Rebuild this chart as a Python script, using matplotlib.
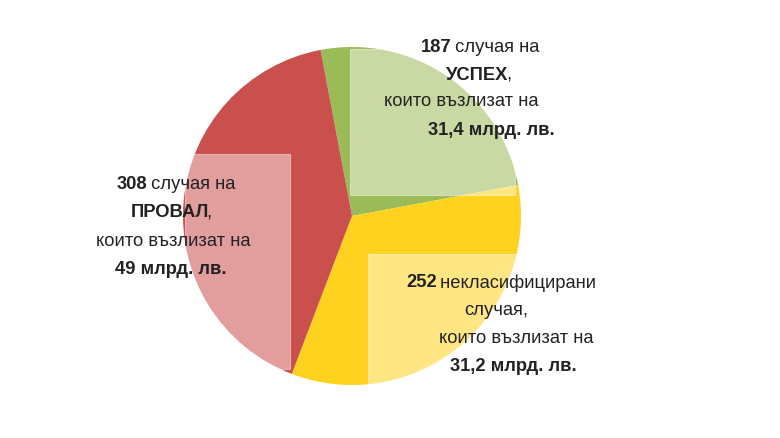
import matplotlib
matplotlib.use("Agg")
import matplotlib.pyplot as plt
from matplotlib.patches import Rectangle

values = [187, 252, 308]
colors = ["#9BBB59", "#FFD21F", "#C9504D"]

fig = plt.figure(figsize=(7.8, 4.39), dpi=100)
W, H = 780, 439
cx, cy, r = 352, 217, 169
ax = fig.add_axes([(cx - r) / W, 1 - (cy + r) / H, 2 * r / W, 2 * r / H])
ax.pie(values, colors=colors, startangle=100.7, counterclock=False,
       wedgeprops=dict(edgecolor="none"))
ax.set_aspect("auto")
ax.set_xlim(-1, 1); ax.set_ylim(-1, 1)

ov = fig.add_axes([0, 0, 1, 1]); ov.set_xlim(0, W); ov.set_ylim(H, 0); ov.axis("off")
for (x0, y0, x1, y1) in [(350, 50, 515, 196), (185, 155, 290, 370), (368, 255, 520, 390)]:
    ov.add_patch(Rectangle((x0, y0), x1 - x0, y1 - y0, facecolor="white", alpha=0.45,
                           edgecolor="white", lw=0.8))

fam = "Liberation Sans"
fs = 13.2
fig.canvas.draw()
rend = fig.canvas.get_renderer()

def line(xc, y, parts):
    ts = []
    total = 0
    for s, b in parts:
        t = ov.text(0, y, s, fontsize=fs, family=fam, weight="bold" if b else "normal",
                    va="center", ha="left", color="#222222")
        w = t.get_window_extent(rend).width - 2
        ts.append((t, w)); total += w
    x = xc - total / 2
    for t, w in ts:
        t.set_x(x); x += w

lines = [
    (479, 48, [("187", True), (" случая на", False)]),
    (478, 75, [("УСПЕХ", True), (",", False)]),
    (460, 102, [("които възлизат на", False)]),
    (490, 131, [("31,4 млрд. лв.", True)]),
    (175, 185, [("308", True), (" случая на", False)]),
    (170, 213, [("ПРОВАЛ", True), (",", False)]),
    (172, 242, [("които възлизат на", False)]),
    (170, 270, [("49 млрд. лв.", True)]),
    (500, 283, [("252", True), (" некласифицирани", False)]),
    (495, 311, [("случая,", False)]),
    (515, 339, [("които възлизат на", False)]),
    (512, 367, [("31,2 млрд. лв.", True)]),
]
for xc, y, parts in lines:
    line(xc, y, parts)

fig.savefig("out.png", dpi=100)
